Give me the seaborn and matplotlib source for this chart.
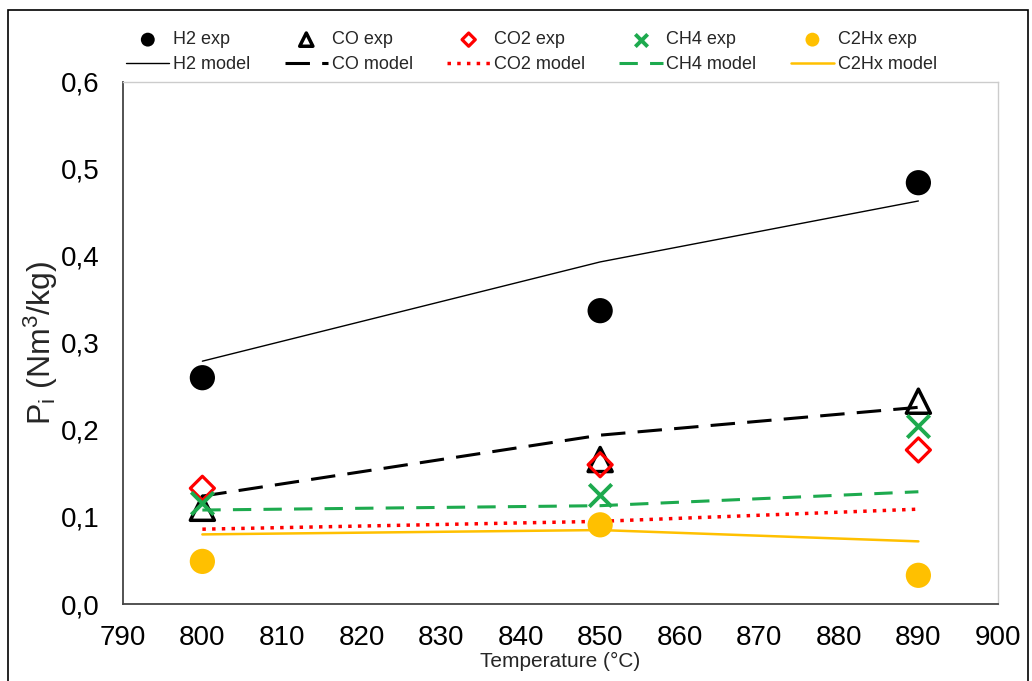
import matplotlib
matplotlib.use("Agg")
import matplotlib.pyplot as plt
from matplotlib.patches import Rectangle
from matplotlib.ticker import FuncFormatter, MultipleLocator
import seaborn as sns

# Data
temps = [800, 850, 890]

h2_exp = [0.260, 0.337, 0.484]
co_exp = [0.110, 0.166, 0.233]
co2_exp = [0.133, 0.160, 0.177]
ch4_exp = [0.116, 0.125, 0.205]
c2hx_exp = [0.049, 0.091, 0.033]

h2_model = [0.279, 0.393, 0.463]
co_model = [0.124, 0.194, 0.226]
co2_model = [0.086, 0.095, 0.109]
ch4_model = [0.108, 0.113, 0.129]
c2hx_model = [0.080, 0.085, 0.072]

y_ticks = [0.0, 0.1, 0.2, 0.3, 0.4, 0.5, 0.6]

sns.set_style("white")
plt.rcParams['font.family'] = ['Liberation Sans', 'DejaVu Sans']
plt.rcParams['mathtext.default'] = 'regular'

orange = "#FFC000"
green = "#1DAA4E"

fig = plt.figure(figsize=(10.32, 6.81), dpi=100)
ax = fig.add_axes([0.119, 0.113, 0.848, 0.767])

# model lines
sns.lineplot(x=temps, y=h2_model, ax=ax, color="black", lw=1.0, label="H2 model")
sns.lineplot(x=temps, y=co_model, ax=ax, color="black", lw=2.2,
             linestyle=(0, (8, 4)), label="CO model")
sns.lineplot(x=temps, y=co2_model, ax=ax, color="red", lw=2.5,
             linestyle=(0, (1, 1.8)), label="CO2 model")
sns.lineplot(x=temps, y=ch4_model, ax=ax, color=green, lw=2.2,
             linestyle=(0, (6, 4)), label="CH4 model")
sns.lineplot(x=temps, y=c2hx_model, ax=ax, color=orange, lw=1.8, label="C2Hx model")

# experimental points
sns.scatterplot(x=temps, y=h2_exp, ax=ax, color="black", s=330, marker="o",
                edgecolor="none", label="H2 exp", zorder=5)
sns.scatterplot(x=temps, y=co_exp, ax=ax, marker="^", s=300, facecolor="none",
                edgecolor="black", linewidth=2.5, label="CO exp", zorder=5)
sns.scatterplot(x=temps, y=co2_exp, ax=ax, marker="D", s=150, facecolor="none",
                edgecolor="red", linewidth=2.3, label="CO2 exp", zorder=5)
sns.scatterplot(x=temps, y=ch4_exp, ax=ax, marker="x", s=260, color=green,
                linewidth=2.8, label="CH4 exp", zorder=5)
sns.scatterplot(x=temps, y=c2hx_exp, ax=ax, color=orange, s=330, marker="o",
                edgecolor="none", label="C2Hx exp", zorder=5)

ax.set_xlim(790, 900)
ax.set_ylim(0, 0.6)
ax.xaxis.set_major_locator(MultipleLocator(10))
ax.set_yticks(y_ticks)
ax.yaxis.set_major_formatter(FuncFormatter(lambda v, p: f"{v:.1f}".replace(".", ",")))
ax.tick_params(axis="both", direction="in", length=8, width=1.2, labelsize=20,
               colors="#444444", labelcolor="black")
ax.tick_params(axis="x", pad=15)
ax.tick_params(axis="y", pad=17)

for side in ["left", "bottom"]:
    ax.spines[side].set_color("#444444")
    ax.spines[side].set_linewidth(1.3)
for side in ["top", "right"]:
    ax.spines[side].set_color("#cccccc")
    ax.spines[side].set_linewidth(1.0)

ax.set_xlabel("Temperature (°C)", fontsize=15, labelpad=1)
ax.set_ylabel("P$_i$ (Nm$^3$/kg)", fontsize=23, labelpad=0)

# legend: exp row on top, model row below
handles, labels = ax.get_legend_handles_labels()
lookup = dict(zip(labels, handles))
order = []
for gas in ["H2", "CO", "CO2", "CH4", "C2Hx"]:
    order += [gas + " exp", gas + " model"]
ax.get_legend().remove()
fig.legend([lookup[k] for k in order], order, loc="center", ncol=5,
           bbox_to_anchor=(0.515, 0.923), frameon=False, fontsize=13,
           markerscale=0.55, handlelength=2.4, handletextpad=0.2,
           columnspacing=1.9, labelspacing=0.45)

# outer border of the figure
fig.patches.append(Rectangle((8 / 1032, -0.02), 1020 / 1032, 1.0 - 10 / 681 + 0.02,
                             transform=fig.transFigure, fill=False,
                             edgecolor="black", lw=1.2))

fig.savefig("out.png", dpi=100)
